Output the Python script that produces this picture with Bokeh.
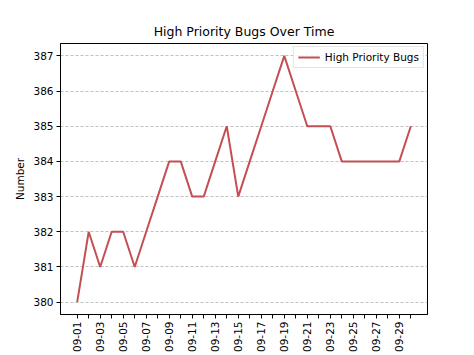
import pandas as pd
from bokeh.plotting import figure
from bokeh.models import Range1d, FixedTicker, DatetimeTickFormatter, Legend, LegendItem
from bokeh.embed import file_html
from bokeh.resources import INLINE
from math import pi

dates = ["2023-09-%02d" % d for d in range(1, 31)]
bugs = [380, 382, 381, 382, 382, 381, 382, 383, 384, 384,
        383, 383, 384, 385, 383, 384, 385, 386, 387, 386,
        385, 385, 385, 384, 384, 384, 384, 384, 384, 385]
y_ticks = [380, 381, 382, 383, 384, 385, 386, 387]
series_name = "High Priority Bugs"
title_text = "High Priority Bugs Over Time"
y_label = "Number"

x = pd.to_datetime(dates)
x_ms = [t.value / 1e6 for t in x]
span = x_ms[-1] - x_ms[0]
ymin, ymax = min(bugs), max(bugs)
ypad = (ymax - ymin) * 0.05

p = figure(width=474, height=355, output_backend="svg", toolbar_location=None,
           x_axis_type="datetime",
           x_range=Range1d(x_ms[0] - span * 0.05, x_ms[-1] + span * 0.05),
           y_range=Range1d(ymin - ypad, ymax + ypad),
           min_border_left=60, min_border_right=47, min_border_top=43, min_border_bottom=40)

p.title.text = title_text
p.title.align = "center"
p.title.text_font = "DejaVu Sans"
p.title.text_font_size = "12.5px"
p.title.text_font_style = "normal"
p.title.text_color = "black"

r = p.line(x, bugs, line_color="#c44e52", line_width=2)

major = x_ms[::2]
minor = x_ms[1::2]
p.xaxis.ticker = FixedTicker(ticks=major, minor_ticks=minor)
p.xaxis.formatter = DatetimeTickFormatter(days="%m-%d", months="%m-%d")
p.xaxis.major_label_orientation = pi / 2
p.yaxis.ticker = FixedTicker(ticks=y_ticks)
p.yaxis.axis_label = y_label

for ax in (p.xaxis, p.yaxis):
    ax.major_label_text_font = "DejaVu Sans"
    ax.major_label_text_font_size = "10.5px"
    ax.major_label_text_color = "black"
    ax.axis_line_color = "black"
    ax.major_tick_line_color = "black"
    ax.minor_tick_line_color = "black"
    ax.major_tick_out = 4
    ax.major_tick_in = 0
    ax.minor_tick_out = 4
    ax.minor_tick_in = 0
    ax.major_label_standoff = 3
    ax.axis_label_text_font = "DejaVu Sans"
    ax.axis_label_text_font_size = "10.5px"
    ax.axis_label_text_font_style = "normal"
    ax.axis_label_text_color = "black"
    ax.axis_label_standoff = 4

p.xgrid.grid_line_color = None
p.ygrid.grid_line_color = "#b0b0b0"
p.ygrid.grid_line_dash = "3 2"
p.ygrid.grid_line_width = 0.8
p.outline_line_color = "black"
p.outline_line_width = 1
p.background_fill_color = "white"
p.border_fill_color = "white"

legend = Legend(items=[LegendItem(label=series_name, renderers=[r])],
                location="top_right")
legend.label_text_font = "DejaVu Sans"
legend.label_text_font_size = "10.5px"
legend.label_text_color = "black"
legend.glyph_width = 22
legend.glyph_height = 12
legend.padding = 4
legend.margin = 3
legend.spacing = 0
legend.border_line_color = "#cccccc"
legend.background_fill_alpha = 0.8
p.add_layout(legend)

open("out.html", "w").write(file_html(p, INLINE))
